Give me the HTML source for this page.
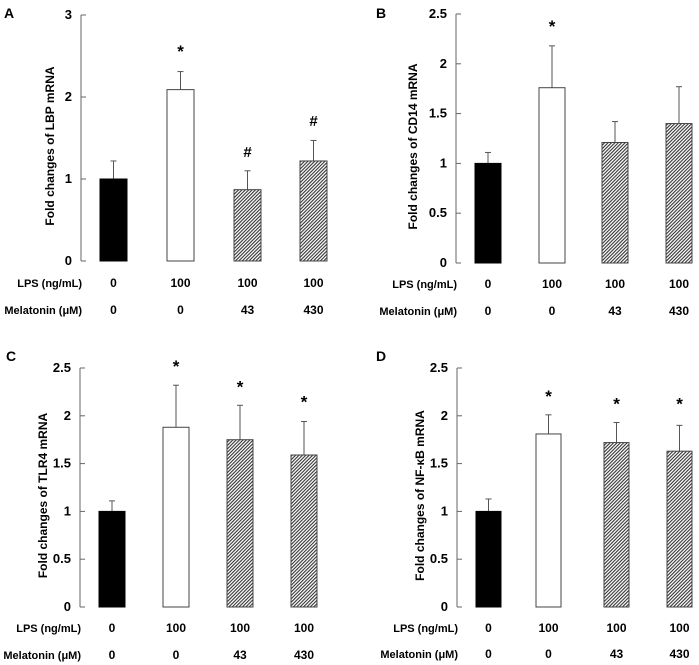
<!DOCTYPE html>
<html><head><meta charset="utf-8"><style>
html,body{margin:0;padding:0;background:#fff}
svg{display:block;font-family:"Liberation Sans",Arial,sans-serif;font-weight:bold}
</style></head><body>
<svg id="fig" width="699" height="665" viewBox="0 0 699 665" xmlns="http://www.w3.org/2000/svg">
<defs>
<pattern id="hatch" patternUnits="userSpaceOnUse" width="2.4" height="2.4" patternTransform="rotate(45)">
<rect width="2.4" height="2.4" fill="#fff"/><rect width="1.1" height="2.4" fill="#333"/>
</pattern>
</defs>
</svg>
<script>
const lpsLabels = ["0","100","100","100"];
const melLabels = ["0","0","43","430"];
const lbpValues = [1.0, 2.09, 0.87, 1.22];
const lbpErrors = [0.22, 0.22, 0.23, 0.25];
const lbpMarks = ["", "*", "#", "#"];
const lbpMarkY = [0, 2.6, 1.34, 1.72];
const cd14Values = [1.0, 1.76, 1.21, 1.40];
const cd14Errors = [0.11, 0.42, 0.21, 0.37];
const cd14Marks = ["", "*", "", ""];
const cd14MarkY = [0, 2.41, 0, 0];
const tlr4Values = [1.0, 1.88, 1.75, 1.59];
const tlr4Errors = [0.11, 0.44, 0.36, 0.35];
const tlr4Marks = ["", "*", "*", "*"];
const tlr4MarkY = [0, 2.55, 2.34, 2.18];
const nfkbValues = [1.0, 1.81, 1.72, 1.63];
const nfkbErrors = [0.13, 0.20, 0.21, 0.27];
const nfkbMarks = ["", "*", "*", "*"];
const nfkbMarkY = [0, 2.24, 2.16, 2.16];
const ticks3 = [0,1,2,3];
const ticks25 = [0,0.5,1,1.5,2,2.5];

const NS = "http://www.w3.org/2000/svg";
const svg = document.getElementById('fig');
function mk(tag, attrs, parent){ const e=document.createElementNS(NS,tag); for(const k in attrs) e.setAttribute(k,attrs[k]); (parent||svg).appendChild(e); return e; }

const panels = [
 {letter:"A", lx:4, ly:18, ax:81, top:15, zero:261, max:3, ticks:ticks3, bars:[100,167,234,300], bw:27, labX:50, title:"Fold changes of LBP mRNA", lpsY:287, melY:314, vals:lbpValues, errs:lbpErrors, marks:lbpMarks, markY:lbpMarkY},
 {letter:"B", lx:376, ly:18, ax:456, top:14, zero:263, max:2.5, ticks:ticks25, bars:[475,539,602,666], bw:26, labX:413, title:"Fold changes of CD14 mRNA", lpsY:288, melY:315, vals:cd14Values, errs:cd14Errors, marks:cd14Marks, markY:cd14MarkY},
 {letter:"C", lx:6, ly:361, ax:80, top:368, zero:607, max:2.5, ticks:ticks25, bars:[99,163,227,291], bw:26, labX:43, title:"Fold changes of TLR4 mRNA", lpsY:632, melY:659, vals:tlr4Values, errs:tlr4Errors, marks:tlr4Marks, markY:tlr4MarkY},
 {letter:"D", lx:376, ly:361, ax:457, top:368, zero:607, max:2.5, ticks:ticks25, bars:[476,536,604,667], bw:25, labX:420, title:"Fold changes of NF-κB mRNA", lpsY:632, melY:658, vals:nfkbValues, errs:nfkbErrors, marks:nfkbMarks, markY:nfkbMarkY}
];
const fills = ["#000","#fff","url(#hatch)","url(#hatch)"];

panels.forEach((p,pi)=>{
  const g = mk('g',{});
  
  
  const y = v => p.zero - (v/p.max)*(p.zero-p.top);
  const t = mk('text',{x:p.lx,y:p.ly,'font-size':14,fill:'#000'},g); t.textContent=p.letter;
   
  const axis = mk('line',{x1:p.ax,y1:p.top,x2:p.ax,y2:p.zero,stroke:'#666','stroke-width':1},g);
   
  p.ticks.forEach(tv=>{
    const tl = mk('line',{x1:p.ax,y1:y(tv),x2:p.ax+5,y2:y(tv),stroke:'#666'},g);
     
    const tx = mk('text',{x:p.ax-9,y:y(tv)+4,'font-size':13,'text-anchor':'end',fill:'#000'},g);
    tx.textContent = String(tv);
     
  });
  const yt = mk('text',{x:0,y:0,'font-size':12,'text-anchor':'middle',fill:'#000',transform:`translate(${p.labX+4},${(p.top+p.zero)/2+8}) rotate(-90)`},g);
  yt.textContent = p.title;
   
  p.vals.forEach((v,i)=>{
    const x = p.bars[i], top=y(v), etop=y(v+p.errs[i]), cx=x+p.bw/2;
    const el = mk('line',{x1:cx,y1:top,x2:cx,y2:etop,stroke:'#555','stroke-width':1},g);
     
    const cap = mk('line',{x1:cx-3,y1:etop,x2:cx+3,y2:etop,stroke:'#555','stroke-width':1},g);
     
    const r = mk('rect',{x:x,y:top,width:p.bw,height:p.zero-top,fill:fills[i],stroke:i==0?'#000':'#444','stroke-width':1},g);
     
    if(p.marks[i]){
      const m = mk('text',{x:cx,y:y(p.markY[i])+(p.marks[i]=='*'?9:6),'font-size':p.marks[i]=='*'?17:15,'text-anchor':'middle',fill:'#000'},g);
      m.textContent=p.marks[i];
       
    }
    const a = mk('text',{x:cx,y:p.lpsY,'font-size':12,'text-anchor':'middle',fill:'#000'},g);
    a.textContent=lpsLabels[i];
     
    const b = mk('text',{x:cx,y:p.melY,'font-size':12,'text-anchor':'middle',fill:'#000'},g);
    b.textContent=melLabels[i];
     
  });
  const l1 = mk('text',{x:p.ax+1,y:p.lpsY,'font-size':11,'text-anchor':'end',fill:'#000'},g);
  l1.textContent='LPS (ng/mL)';
   
  const l2 = mk('text',{x:p.ax+1,y:p.melY,'font-size':11,'text-anchor':'end',fill:'#000'},g);
  l2.textContent='Melatonin (μM)';
   
});
</script>
</body></html>
